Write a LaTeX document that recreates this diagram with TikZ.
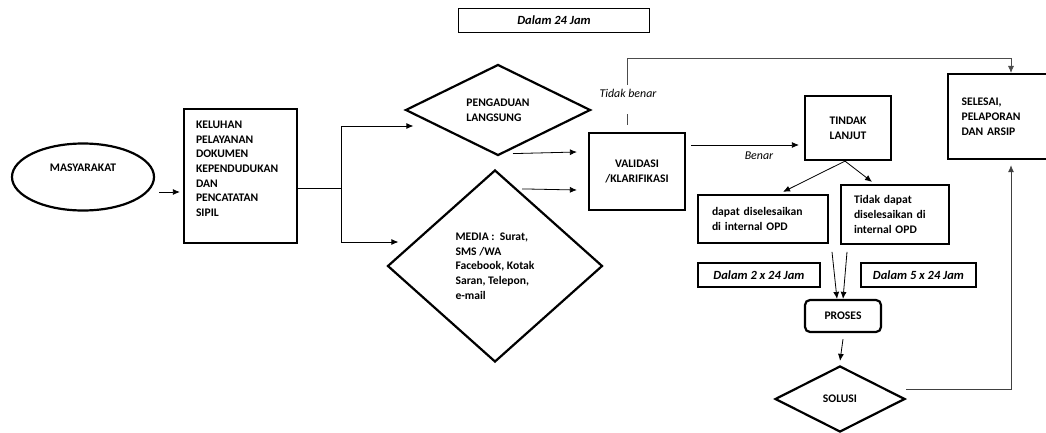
\documentclass[tikz,border=0pt]{standalone}
\usepackage{fontspec}
\setmainfont{Carlito}
\usepackage{tikz}
\usetikzlibrary{shapes.geometric, arrows.meta}
\newcommand{\huruf}{\fontsize{11.6}{14.7}\selectfont\bfseries}
\tikzset{
	kotak/.style={draw, line width=2.2pt, font=\huruf},
	belah/.style={diamond, draw, line width=2.2pt, font=\huruf, inner sep=0pt},
	garis/.style={line width=.8pt},
	panah/.style={garis, -{Latex[length=7pt, width=6pt]}},
	ket/.style={font=\fontsize{11.9}{14}\selectfont\itshape, inner sep=1pt},
	waktu/.style={draw, font=\fontsize{12.5}{15}\selectfont\bfseries\itshape, minimum height=24pt, inner sep=0pt},
}

\begin{document}
\begin{tikzpicture}[x=1pt, y=-1pt]
		\path[use as bounding box, clip](0, 0)rectangle(1046, 433);
		% kotak dan belah ketupat
		\node[ellipse, draw, line width=2.2pt, font=\huruf, minimum width=142pt, minimum height=67pt, align=center](masy)at(83, 177){MASYARAKAT\\[4pt]\mbox{}};
		\node[kotak, minimum width=113pt, minimum height=134pt, text width=89pt, inner xsep=12pt, align=left](keluhan)at(240.5, 176){KELUHAN\\PELAYANAN\\DOKUMEN\\KEPENDUDUKAN\\DAN\\PENCATATAN\\SIPIL\\\mbox{}};
		\node[belah, minimum width=185pt, minimum height=91pt, align=left](pengaduan)at(498, 110){PENGADUAN\\LANGSUNG};
		\node[belah, minimum width=215pt, minimum height=192pt, align=left](media)at(495, 266){MEDIA :~ Surat,\\SMS /WA\\Facebook, Kotak\\Saran, Telepon,\\e-mail};
		\node[kotak, minimum width=96pt, minimum height=77pt, align=center](validasi)at(637, 171.5){VALIDASI\\/KLARIFIKASI};
		\node[kotak, minimum width=86pt, minimum height=64pt, align=center](tindak)at(848, 128){TINDAK\\LANJUT};
		\node[kotak, anchor=north west, minimum width=113pt, minimum height=85pt, text width=86pt, inner xsep=13pt, align=left](selesai)at(947, 73){SELESAI,\\PELAPORAN\\DAN ARSIP};
		\node[kotak, minimum width=130pt, minimum height=48pt, text width=102pt, inner xsep=14pt, align=left](dapat)at(763, 219){dapat diselesaikan\\di internal OPD};
		\node[kotak, minimum width=108pt, minimum height=59pt, text width=82pt, inner xsep=13pt, align=left](tdapat)at(895, 214.5){Tidak dapat\\diselesaikan di\\internal OPD};
		\node[waktu, line width=.8pt, minimum width=191pt](w1)at(554, 20){Dalam 24 Jam};
		\node[waktu, line width=2.2pt, minimum width=122pt](w2)at(759, 275){Dalam 2 x 24 Jam};
		\node[waktu, line width=2.2pt, minimum width=115pt](w5)at(918.5, 275){Dalam 5 x 24 Jam};
		\node[kotak, rounded corners=5pt, minimum width=76pt, minimum height=32pt](proses)at(843, 316){PROSES};
		\node[belah, minimum width=130pt, minimum height=66pt](solusi)at(840, 399){SOLUSI};
		% label
		\node[ket](benar)at(759, 156){Benar};
		\node[ket](tbenar)at(628, 93){Tidak benar};
		% panah
		\draw[panah]([xshift=4pt, yshift=-15pt]masy.east)--([xshift=-3pt, yshift=-16pt]keluhan.west);
		\coordinate(cabang)at(341, 188);
		\draw[garis]([yshift=-12pt]keluhan.east)--(cabang);
		\draw[panah](cabang)|-([shift={(9pt, -16pt)}]pengaduan.west);
		\draw[panah](cabang)|-([shift={(12pt, 24pt)}]media.west);
		\draw[panah](pengaduan.south)++(15, -3)--([shift={(-11pt, 19.5pt)}]validasi.west);
		\draw[panah](media.north)++(27, 20)--([shift={(-11pt, -18.5pt)}]validasi.west);
		\draw[panah](validasi.east)++(5, -26.5)--([shift={(-5pt, -17pt)}]tindak.west);
		\draw[garis, black!70]([xshift=-10pt, yshift=7pt]validasi.north)--++(0, -11);
		\draw[panah, black!70](tbenar)++(-1, -8)--++(0, -27)-|([xshift=64pt]selesai.north west);
		\draw[panah]([xshift=-3pt]tindak.south)--([shift={(20pt, 2pt)}]dapat.north);
		\draw[panah]([xshift=-3pt]tindak.south)--([shift={(-23pt, 2pt)}]tdapat.north);
		\draw[panah](proses.north)++(-11, -47)--([xshift=-6pt]proses.north);
		\draw[panah](proses.north)++(4, -47)--(proses.north);
		\draw[panah](proses.south)++(0, 6)--([yshift=4pt]solusi.north);
		\draw[panah, black!75](solusi.east)++(0, -10)-|([shift={(64pt, -5pt)}]selesai.south west);
	\end{tikzpicture}
\end{document}
